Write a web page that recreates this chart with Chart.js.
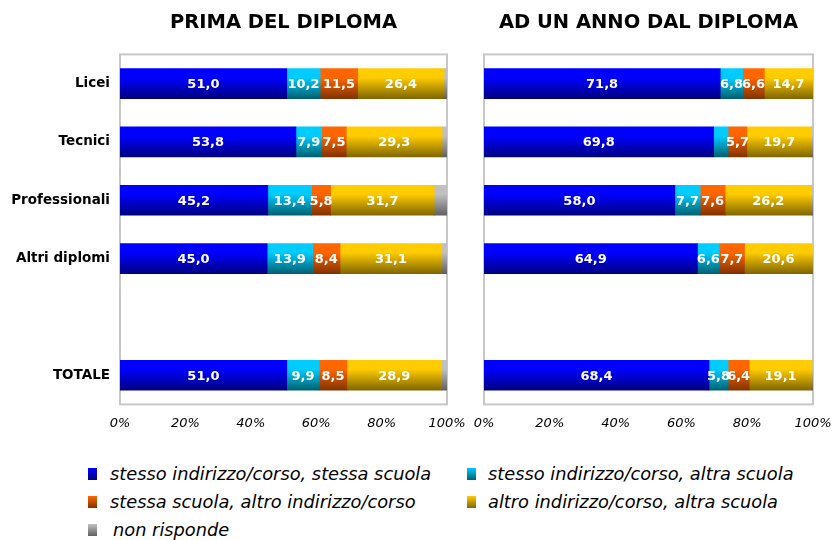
<!DOCTYPE html>
<html>
<head>
<meta charset="utf-8">
<script src="https://cdn.jsdelivr.net/npm/chart.js@4/dist/chart.umd.min.js"></script>
<style>
  body { margin: 0; background: #fff; width: 832px; height: 540px; position: relative; overflow: hidden; font-family: "DejaVu Sans", Verdana, sans-serif; }
  #leftChart { position: absolute; left: 0; top: 0; }
  #rightChart { position: absolute; left: 466px; top: 0; }
  .lg { position: absolute; height: 20px; line-height: 20px; font-size: 17.8px; font-style: italic; color: #000; white-space: nowrap; }
  .sw { position: absolute; left: 0; top: 4px; width: 9px; height: 12px; }
</style>
</head>
<body>
<canvas id="leftChart" width="466" height="442"></canvas>
<canvas id="rightChart" width="366" height="442"></canvas>

<div class="lg" style="left:88px;top:464px"><span class="sw" style="background:linear-gradient(#0000ff,#000080)"></span><span style="margin-left:22px">stesso indirizzo/corso, stessa scuola</span></div>
<div class="lg" style="left:467px;top:464px"><span class="sw" style="background:linear-gradient(#00ccff,#006070)"></span><span style="margin-left:21px">stesso indirizzo/corso, altra scuola</span></div>
<div class="lg" style="left:88px;top:492px"><span class="sw" style="background:linear-gradient(#ff6600,#803300)"></span><span style="margin-left:22px">stessa scuola, altro indirizzo/corso</span></div>
<div class="lg" style="left:467px;top:492px"><span class="sw" style="background:linear-gradient(#ffcc00,#806600)"></span><span style="margin-left:21px">altro indirizzo/corso, altra scuola</span></div>
<div class="lg" style="left:88px;top:520px"><span class="sw" style="background:linear-gradient(#c0c0c0,#606060)"></span><span style="margin-left:25px">non risponde</span></div>

<script>
const categories = ['Licei', 'Tecnici', 'Professionali', 'Altri diplomi', '', 'TOTALE'];
const seriesNames = [
    'stesso indirizzo/corso, stessa scuola',
    'stesso indirizzo/corso, altra scuola',
    'stessa scuola, altro indirizzo/corso',
    'altro indirizzo/corso, altra scuola',
    'non risponde'
];
const xTicks = [0, 20, 40, 60, 80, 100];

// prima del diploma
const primaStessoStessa = [51.0, 53.8, 45.2, 45.0, null, 51.0];
const primaStessoAltra  = [10.2, 7.9, 13.4, 13.9, null, 9.9];
const primaScuolaAltro  = [11.5, 7.5, 5.8, 8.4, null, 8.5];
const primaAltroAltra   = [26.4, 29.3, 31.7, 31.1, null, 28.9];
const primaNonRisponde  = [0.9, 1.5, 3.9, 1.6, null, 1.7];

// ad un anno dal diploma
const annoStessoStessa = [71.8, 69.8, 58.0, 64.9, null, 68.4];
const annoStessoAltra  = [6.8, 4.4, 7.7, 6.6, null, 5.8];
const annoScuolaAltro  = [6.6, 5.7, 7.6, 7.7, null, 6.4];
const annoAltroAltra   = [14.7, 19.7, 26.2, 20.6, null, 19.1];
const annoNonRisponde  = [0.1, 0.4, 0.5, 0.2, null, 0.3];

const colors = [
    ['#0000ff', '#000080'],
    ['#00ccff', '#006070'],
    ['#ff6600', '#803300'],
    ['#ffcc00', '#806600'],
    ['#c0c0c0', '#606060']
];

function gradFill(top, bottom) {
    return function(c) {
        const chart = c.chart;
        const y = chart.scales.y;
        if (!chart.chartArea || !y || c.dataIndex == null) return top;
        const yc = y.getPixelForValue(c.dataIndex);
        const g = chart.ctx.createLinearGradient(0, yc - 15, 0, yc + 15);
        g.addColorStop(0, top);
        g.addColorStop(0.3, top);
        g.addColorStop(1, bottom);
        return g;
    };
}

const frameBox = {
    id: 'frameBox',
    beforeDatasetsDraw(chart) {
        const a = chart.chartArea;
        const ctx = chart.ctx;
        ctx.save();
        ctx.strokeStyle = '#c8c8c8';
        ctx.lineWidth = 2;
        ctx.strokeRect(a.left, a.top, a.right - a.left, a.bottom - a.top);
        ctx.restore();
    }
};

const segmentLabels = {
    id: 'segmentLabels',
    afterDatasetsDraw(chart) {
        const ctx = chart.ctx;
        ctx.save();
        ctx.font = 'bold 13px "DejaVu Sans"';
        ctx.fillStyle = '#fff';
        ctx.textAlign = 'center';
        ctx.textBaseline = 'middle';
        chart.data.datasets.forEach((ds, i) => {
            if (i === 4) return;
            chart.getDatasetMeta(i).data.forEach((bar, j) => {
                const v = ds.data[j];
                if (v == null || v < 5) return;
                ctx.fillText(v.toFixed(1).replace('.', ','), (bar.x + bar.base) / 2, bar.y + 1);
            });
        });
        ctx.restore();
    }
};

function makeChart(id, title, series, showLabels, padding) {
    return new Chart(document.getElementById(id), {
        type: 'bar',
        data: {
            labels: categories,
            datasets: series.map((d, i) => ({
                label: seriesNames[i],
                data: d,
                backgroundColor: gradFill(colors[i][0], colors[i][1]),
                borderWidth: 0,
                barThickness: 30
            }))
        },
        options: {
            indexAxis: 'y',
            responsive: false,
            animation: false,
            layout: { padding: padding },
            plugins: {
                legend: { display: false },
                tooltip: { enabled: false },
                title: {
                    display: true,
                    text: title,
                    fullSize: false,
                    color: '#000',
                    font: { family: '"DejaVu Sans"', size: 19.5, weight: 'bold' },
                    padding: { top: 11, bottom: 20 }
                }
            },
            scales: {
                x: {
                    stacked: true,
                    min: 0,
                    max: 100,
                    afterBuildTicks: s => { s.ticks = xTicks.map(v => ({ value: v })); },
                    afterFit: s => { s.paddingLeft = 0; s.paddingRight = 0; },
                    grid: { display: false, drawTicks: false },
                    border: { display: false },
                    ticks: {
                        padding: 11,
                        color: '#000',
                        maxRotation: 0,
                        font: { family: '"DejaVu Sans"', size: 13, style: 'italic' },
                        callback: v => v + '%'
                    }
                },
                y: {
                    stacked: true,
                    display: showLabels,
                    grid: { display: false, drawTicks: false },
                    border: { display: false },
                    afterFit: s => {
                        if (showLabels) s.width = 120;
                        s.paddingTop = 0;
                        s.paddingBottom = 0;
                    },
                    ticks: {
                        padding: 10,
                        color: '#000',
                        font: { family: '"DejaVu Sans"', size: 13.5, weight: 'bold' }
                    }
                }
            }
        },
        plugins: [frameBox, segmentLabels]
    });
}

makeChart('leftChart', 'PRIMA DEL DIPLOMA',
    [primaStessoStessa, primaStessoAltra, primaScuolaAltro, primaAltroAltra, primaNonRisponde],
    true, { left: 0, right: 19, top: 0, bottom: 0 });

makeChart('rightChart', 'AD UN ANNO DAL DIPLOMA',
    [annoStessoStessa, annoStessoAltra, annoScuolaAltro, annoAltroAltra, annoNonRisponde],
    false, { left: 18, right: 19, top: 0, bottom: 0 });
</script>
</body>
</html>
